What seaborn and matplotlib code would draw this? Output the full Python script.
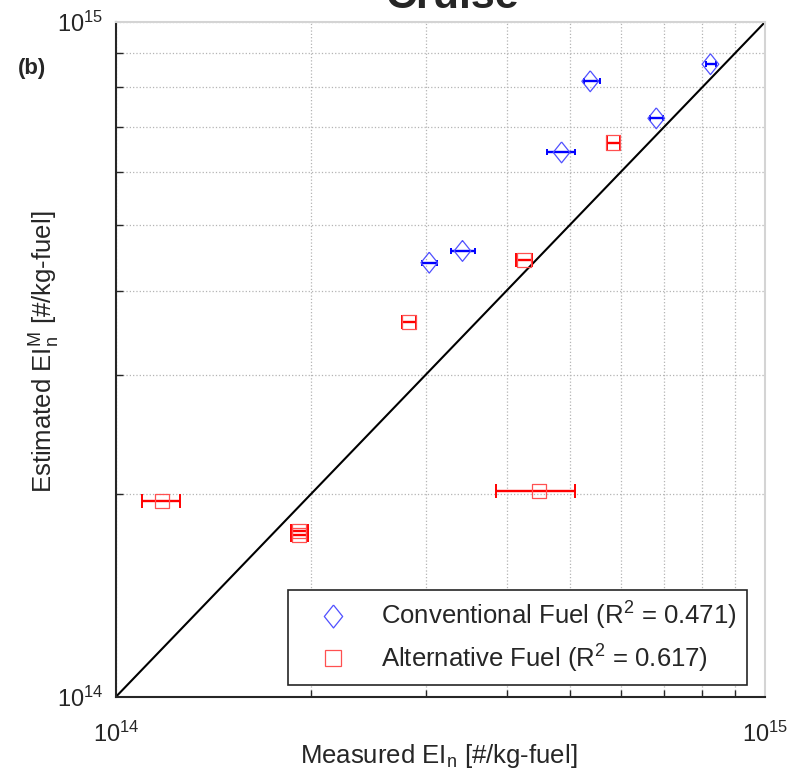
import numpy as np
import pandas as pd
import matplotlib
matplotlib.use("Agg")
import matplotlib.pyplot as plt
from matplotlib.lines import Line2D
from matplotlib.ticker import LogLocator, NullFormatter
import seaborn as sns

# ===== 数据 =====
conv_x = [8.24e14, 5.38e14, 6.80e14, 4.86e14, 3.42e14, 3.04e14]
conv_y = [8.66e14, 8.17e14, 7.20e14, 6.41e14, 4.58e14, 4.40e14]
conv_xlo = [8.12e14, 5.26e14, 6.64e14, 4.62e14, 3.28e14, 2.96e14]
conv_xhi = [8.41e14, 5.56e14, 6.96e14, 5.10e14, 3.57e14, 3.13e14]

alt_x = [5.83e14, 4.25e14, 2.83e14, 4.48e14, 1.18e14, 1.918e14, 1.918e14]
alt_y = [6.63e14, 4.44e14, 3.59e14, 2.02e14, 1.95e14, 1.764e14, 1.740e14]
alt_xlo = [5.70e14, 4.13e14, 2.76e14, 3.85e14, 1.099e14, 1.86e14, 1.86e14]
alt_xhi = [5.98e14, 4.38e14, 2.90e14, 5.10e14, 1.258e14, 1.975e14, 1.975e14]

diag = [1e14, 1e15]
labels = ["Conventional Fuel (R$^2$ = 0.471)", "Alternative Fuel (R$^2$ = 0.617)"]

conv = pd.DataFrame({"x": conv_x, "y": conv_y, "lo": conv_xlo, "hi": conv_xhi})
alt = pd.DataFrame({"x": alt_x, "y": alt_y, "lo": alt_xlo, "hi": alt_xhi})

# ===== 样式 =====
sns.set_style("white")
plt.rcParams["font.family"] = ["Liberation Sans", "DejaVu Sans"]
plt.rcParams["mathtext.fontset"] = "custom"
plt.rcParams["mathtext.rm"] = "Liberation Sans"
plt.rcParams["mathtext.it"] = "Liberation Sans:italic"
plt.rcParams["mathtext.bf"] = "Liberation Sans:bold"

blue_edge = "#5050ff"
red_edge = "#ff5050"
diamond = [(0, 1), (0.8, 0), (0, -1), (-0.8, 0), (0, 1)]

fig = plt.figure(figsize=(8.02, 7.73), dpi=100)
ax = fig.add_axes([0.1443, 0.0983, 0.8096, 0.8732])
ax.set_xscale("log")
ax.set_yscale("log")

# 1:1 线
sns.lineplot(x=diag, y=diag, color="black", linewidth=1.5, ax=ax, zorder=2)

# 误差棒 (capsize 为半长)
ax.errorbar(conv["x"], conv["y"], xerr=[conv["x"] - conv["lo"], conv["hi"] - conv["x"]],
            fmt="none", ecolor="blue", elinewidth=1.7, capsize=2.5, capthick=1.4, zorder=3)
ax.errorbar(alt["x"], alt["y"], xerr=[alt["x"] - alt["lo"], alt["hi"] - alt["x"]],
            fmt="none", ecolor="red", elinewidth=1.7, capsize=5, capthick=1.4, zorder=3)

# 空心标记
sns.scatterplot(data=conv, x="x", y="y", marker=diamond, s=15 ** 2,
                facecolor="none", edgecolor=blue_edge, linewidth=0.9, ax=ax, zorder=4)
sns.scatterplot(data=alt, x="x", y="y", marker="s", s=10.2 ** 2,
                facecolor="none", edgecolor=red_edge, linewidth=0.9, ax=ax, zorder=4)

ax.set_xlim(1e14, 1e15)
ax.set_ylim(1e14, 1e15)

for axis in (ax.xaxis, ax.yaxis):
    axis.set_major_locator(LogLocator(base=10))
    axis.set_minor_locator(LogLocator(base=10, subs=np.arange(2, 10)))
    axis.set_minor_formatter(NullFormatter())

ax.tick_params(which="both", direction="in", left=True, bottom=True, top=False, right=False,
               labelsize=17, color="#262626")
ax.tick_params(which="major", length=8, width=1.3)
ax.tick_params(which="minor", length=5, width=1.0)
ax.tick_params(axis="x", which="major", pad=18)
ax.tick_params(axis="y", which="major", pad=9)

ax.grid(True, which="both", linestyle=":", color="#b4b4b4", linewidth=0.9)

for side in ("left", "bottom"):
    ax.spines[side].set_color("#262626")
    ax.spines[side].set_linewidth(1.5)
for side in ("top", "right"):
    ax.spines[side].set_color("#d4d4d4")
    ax.spines[side].set_linewidth(1.5)

ax.set_xlabel("Measured EI$_\\mathrm{n}$ [#/kg-fuel]", fontsize=18.5, color="#262626")
ax.set_ylabel("Estimated EI$^\\mathrm{M}_\\mathrm{n}$ [#/kg-fuel]", fontsize=18.5, color="#262626")
ax.xaxis.set_label_coords(0.498, -0.066)
ax.yaxis.set_label_coords(-0.083, 0.511)

# 图例
handles = [
    Line2D([], [], marker=diamond, linestyle="none", markerfacecolor="none",
           markeredgecolor=blue_edge, markersize=16.5, markeredgewidth=0.9),
    Line2D([], [], marker="s", linestyle="none", markerfacecolor="none",
           markeredgecolor=red_edge, markersize=11.5, markeredgewidth=0.9),
]
leg = ax.legend(handles, labels, loc="lower right", bbox_to_anchor=(0.972, 0.018),
                borderaxespad=0, fontsize=18.5, frameon=True, fancybox=False,
                framealpha=1, edgecolor="#262626", borderpad=0.4, handlelength=2.7,
                handletextpad=0.5, labelspacing=0.4)
leg.get_frame().set_linewidth(1.2)
for t in leg.get_texts():
    t.set_color("#262626")

# 标题 (上方被裁切) 和子图标记
fig.text(0.5636, 1 - 8 / 773, "Cruise", fontsize=31, fontweight="bold",
         ha="center", va="baseline")
fig.text(0.0224, 1 - 74 / 773, "(b)", fontsize=16, fontweight="bold",
         ha="left", va="baseline")

fig.savefig("out.png", dpi=100)
